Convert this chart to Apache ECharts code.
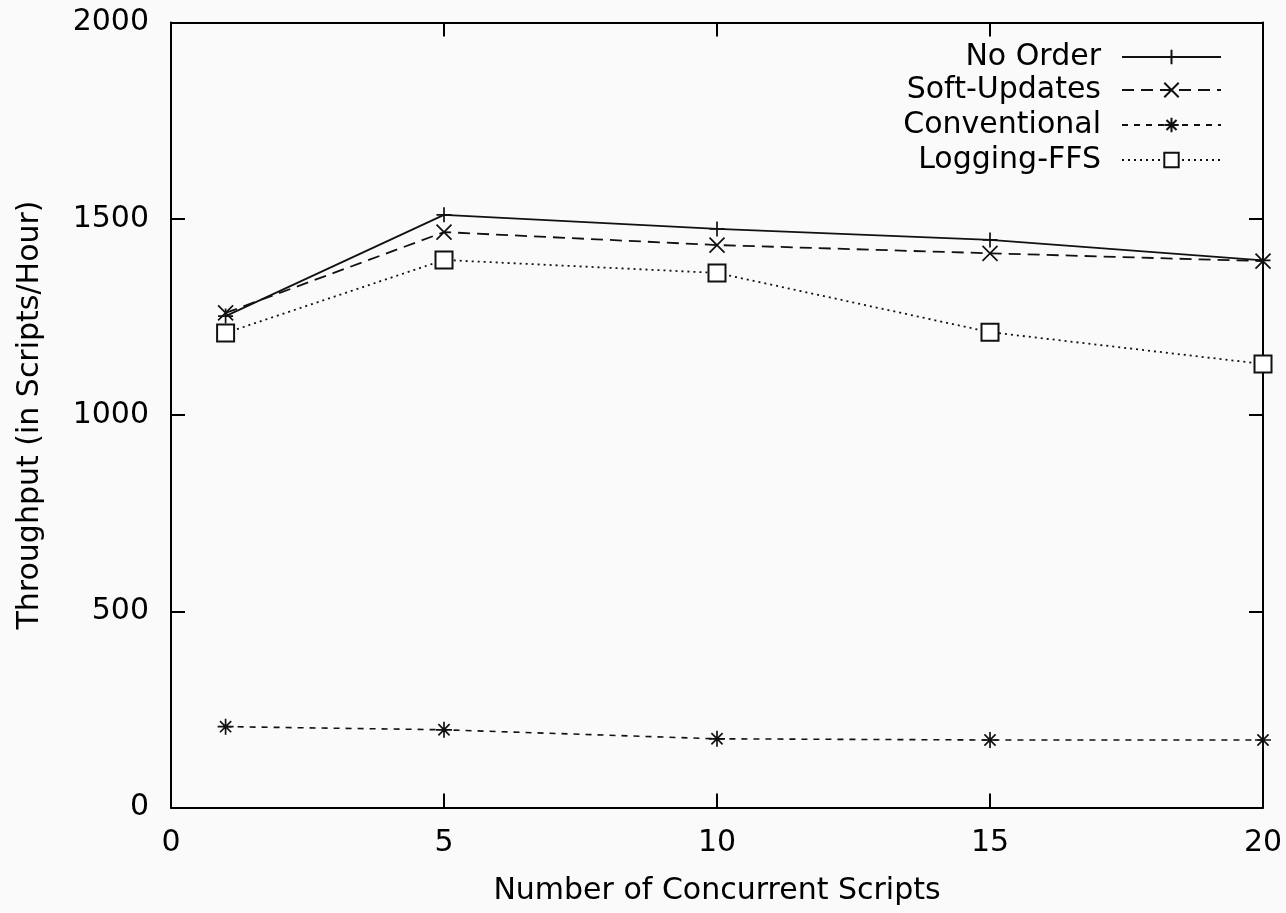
<!DOCTYPE html>
<html>
<head>
<meta charset="utf-8">
<script src="https://cdn.jsdelivr.net/npm/echarts@6/dist/echarts.min.js"></script>
<style>
html,body{margin:0;padding:0;background:#fafafa;}
#chart{width:1286px;height:913px;}
</style>
</head>
<body>
<div id="chart"></div>
<script>
const xValues = [1, 5, 10, 15, 20];
const noOrder = [1252, 1510, 1474, 1446, 1394];
const softUpdates = [1260, 1466, 1433, 1412, 1392];
const conventional = [206, 198, 175, 172, 172];
const loggingFFS = [1209, 1395, 1362, 1211, 1130];
const seriesNames = ['No Order', 'Soft-Updates', 'Conventional', 'Logging-FFS'];
const xAxisTitle = 'Number of Concurrent Scripts';
const yAxisTitle = 'Throughput (in Scripts/Hour)';

const FONT = 'DejaVu Sans';
const INK = '#111';

const plusSym = 'path://M5,0L5,10M0,5L10,5';
const crossSym = 'path://M0,0L10,10M10,0L0,10';
const starSym = 'path://M5,0L5,10M0,5L10,5M1.5,1.5L8.5,8.5M8.5,1.5L1.5,8.5';

function pts(vals){ return xValues.map((x,i)=>[x, vals[i]]); }

function mkSeries(name, vals, sym, size, dash, width){
  return {
    name: name, type: 'line', data: pts(vals),
    symbol: sym, symbolSize: size, showSymbol: true,
    lineStyle: {color: INK, width: width, type: dash},
    itemStyle: {color: 'none', borderColor: INK, borderWidth: 1.7},
    emphasis: {disabled: true},
    animation: false
  };
}

const legendTops = [42, 75, 110, 145];
const legends = seriesNames.map((n,i)=>({
  data: [n], orient: 'vertical', right: 64, top: legendTops[i], padding: 0,
  align: 'right', itemWidth: 99, itemHeight: 18,
  textStyle: {fontFamily: FONT, fontSize: 30, color: '#000', padding: [0, 16, 0, 0]},
  selectedMode: false
}));

const chart = echarts.init(document.getElementById('chart'), null, {renderer: 'canvas'});
function axisCommon(){
  return {
    axisLine: {show: true, onZero: false, lineStyle: {color: '#000', width: 2}},
    axisTick: {show: true, inside: true, length: 14, lineStyle: {color: '#000', width: 2}},
    splitLine: {show: false}
  };
}
const plain = v => String(v);
chart.setOption({
  backgroundColor: '#fafafa',
  animation: false,
  title: {
    text: xAxisTitle, left: 717, top: 876, padding: 0,
    textAlign: 'center',
    textStyle: {fontFamily: FONT, fontSize: 30, fontWeight: 'normal', color: '#000'}
  },
  grid: {left: 171, right: 23, top: 22.5, bottom: 105.5, containLabel: false, outerBoundsMode: 'none'},
  legend: legends,
  xAxis: [
    Object.assign({type: 'value', min: 0, max: 20, interval: 5, position: 'bottom',
      axisLabel: {fontFamily: FONT, fontSize: 30, color: '#000', margin: 21, formatter: plain}}, axisCommon()),
    Object.assign({type: 'value', min: 0, max: 20, interval: 5, position: 'top',
      axisLabel: {show: false}}, axisCommon())
  ],
  yAxis: [
    Object.assign({type: 'value', min: 0, max: 2000, interval: 500, position: 'left',
      name: yAxisTitle, nameLocation: 'middle', nameGap: 126,
      nameTextStyle: {fontFamily: FONT, fontSize: 30, color: '#000'},
      axisLabel: {fontFamily: FONT, fontSize: 30, color: '#000', margin: 22, formatter: plain}}, axisCommon()),
    Object.assign({type: 'value', min: 0, max: 2000, interval: 500, position: 'right',
      axisLabel: {show: false}}, axisCommon())
  ],
  series: [
    mkSeries(seriesNames[0], noOrder, plusSym, 15, 'solid', 1.8),
    mkSeries(seriesNames[1], softUpdates, crossSym, 15, [12, 7], 1.8),
    mkSeries(seriesNames[2], conventional, starSym, 16, [6, 6], 1.6),
    Object.assign(mkSeries(seriesNames[3], loggingFFS, 'emptyRect', 17, [2, 4], 1.8),
      {itemStyle: {color: INK, borderColor: INK, borderWidth: 1.8}})
  ]
});
</script>
</body>
</html>
